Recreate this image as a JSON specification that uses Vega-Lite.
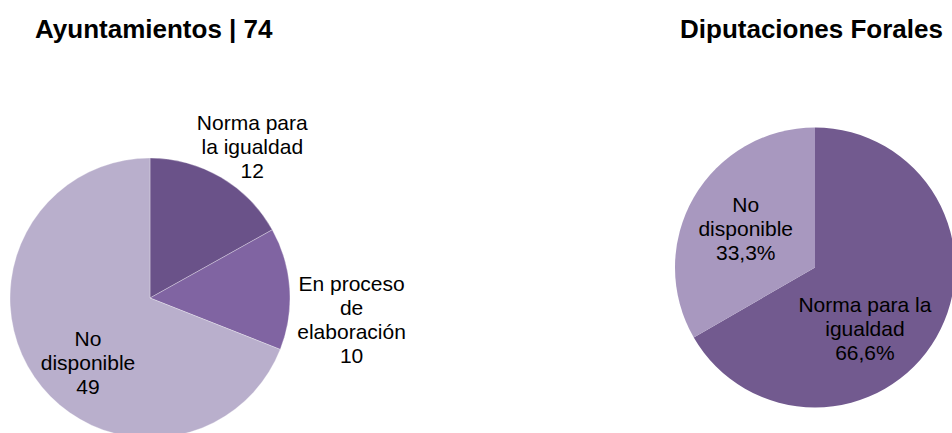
{
  "$schema": "https://vega.github.io/schema/vega-lite/v6.json",
  "background": "white",
  "padding": {"left": 0, "top": 17, "right": 0, "bottom": 0},
  "bounds": "flush",
  "spacing": 382,
  "config": {
    "view": {"stroke": null},
    "font": "Liberation Sans",
    "title": {
      "font": "Liberation Sans",
      "fontSize": 26,
      "fontWeight": "bold",
      "color": "#000000",
      "anchor": "start",
      "baseline": "alphabetic",
      "offset": 5
    },
    "text": {"font": "Liberation Sans", "fontSize": 21, "lineHeight": 24, "color": "#000000", "align": "center", "baseline": "middle", "lineBreak": "\n"}
  },
  "resolve": {"scale": {"theta": "independent", "color": "independent"}},
  "hconcat": [
    {
      "title": {"text": "Ayuntamientos | 74", "dx": 35},
      "width": 300,
      "height": 500,
      "data": {
        "values": [
          {"situacion": "Norma para la igualdad", "etiqueta": "Norma para\nla igualdad", "valor": 12},
          {"situacion": "En proceso de elaboración", "etiqueta": "En proceso\nde\nelaboración", "valor": 10},
          {"situacion": "No disponible", "etiqueta": "No\ndisponible", "valor": 49}
        ]
      },
      "transform": [
        {"window": [{"op": "row_number", "as": "orden"}]},
        {"calculate": "datum.etiqueta + '\\n' + datum.valor", "as": "texto"}
      ],
      "encoding": {
        "theta": {"field": "valor", "type": "quantitative", "stack": true},
        "order": {"field": "orden", "type": "quantitative"}
      },
      "layer": [
        {
          "mark": {"type": "arc", "outerRadius": 140, "stroke": "#ffffff", "strokeWidth": 0.5, "strokeOpacity": 0.6},
          "encoding": {
            "color": {
              "field": "situacion",
              "type": "nominal",
              "scale": {
                "domain": ["Norma para la igualdad", "En proceso de elaboración", "No disponible"],
                "range": ["#6a5289", "#8064a2", "#b9afcc"]
              },
              "legend": null
            }
          }
        },
        {
          "mark": {"type": "text", "radius": {"expr": "datum.situacion === 'No disponible' ? 75 : 202"}},
          "encoding": {"text": {"field": "texto", "type": "nominal"}}
        }
      ]
    },
    {
      "title": {"text": "Diputaciones Forales", "dx": 5},
      "width": 266,
      "height": 439,
      "data": {
        "values": [
          {"situacion": "Norma para la igualdad", "etiqueta": "Norma para la\nigualdad", "valor": 66.6},
          {"situacion": "No disponible", "etiqueta": "No\ndisponible", "valor": 33.3}
        ]
      },
      "transform": [
        {"window": [{"op": "row_number", "as": "orden"}]},
        {"calculate": "datum.etiqueta + '\\n' + replace(format(datum.valor, '.1f'), '.', ',') + '%'", "as": "texto"}
      ],
      "encoding": {
        "theta": {"field": "valor", "type": "quantitative", "stack": true},
        "order": {"field": "orden", "type": "quantitative"}
      },
      "layer": [
        {
          "mark": {"type": "arc", "outerRadius": 140},
          "encoding": {
            "color": {
              "field": "situacion",
              "type": "nominal",
              "scale": {
                "domain": ["Norma para la igualdad", "No disponible"],
                "range": ["#725a8f", "#a898bf"]
              },
              "legend": null
            }
          }
        },
        {
          "mark": {
            "type": "text",
            "radius": {"expr": "datum.situacion === 'No disponible' ? 80 : 90"},
            "dx": {"expr": "datum.situacion === 'No disponible' ? 0 : -28"},
            "dy": {"expr": "datum.situacion === 'No disponible' ? -22 : -7"}
          },
          "encoding": {"text": {"field": "texto", "type": "nominal"}}
        }
      ]
    }
  ]
}
